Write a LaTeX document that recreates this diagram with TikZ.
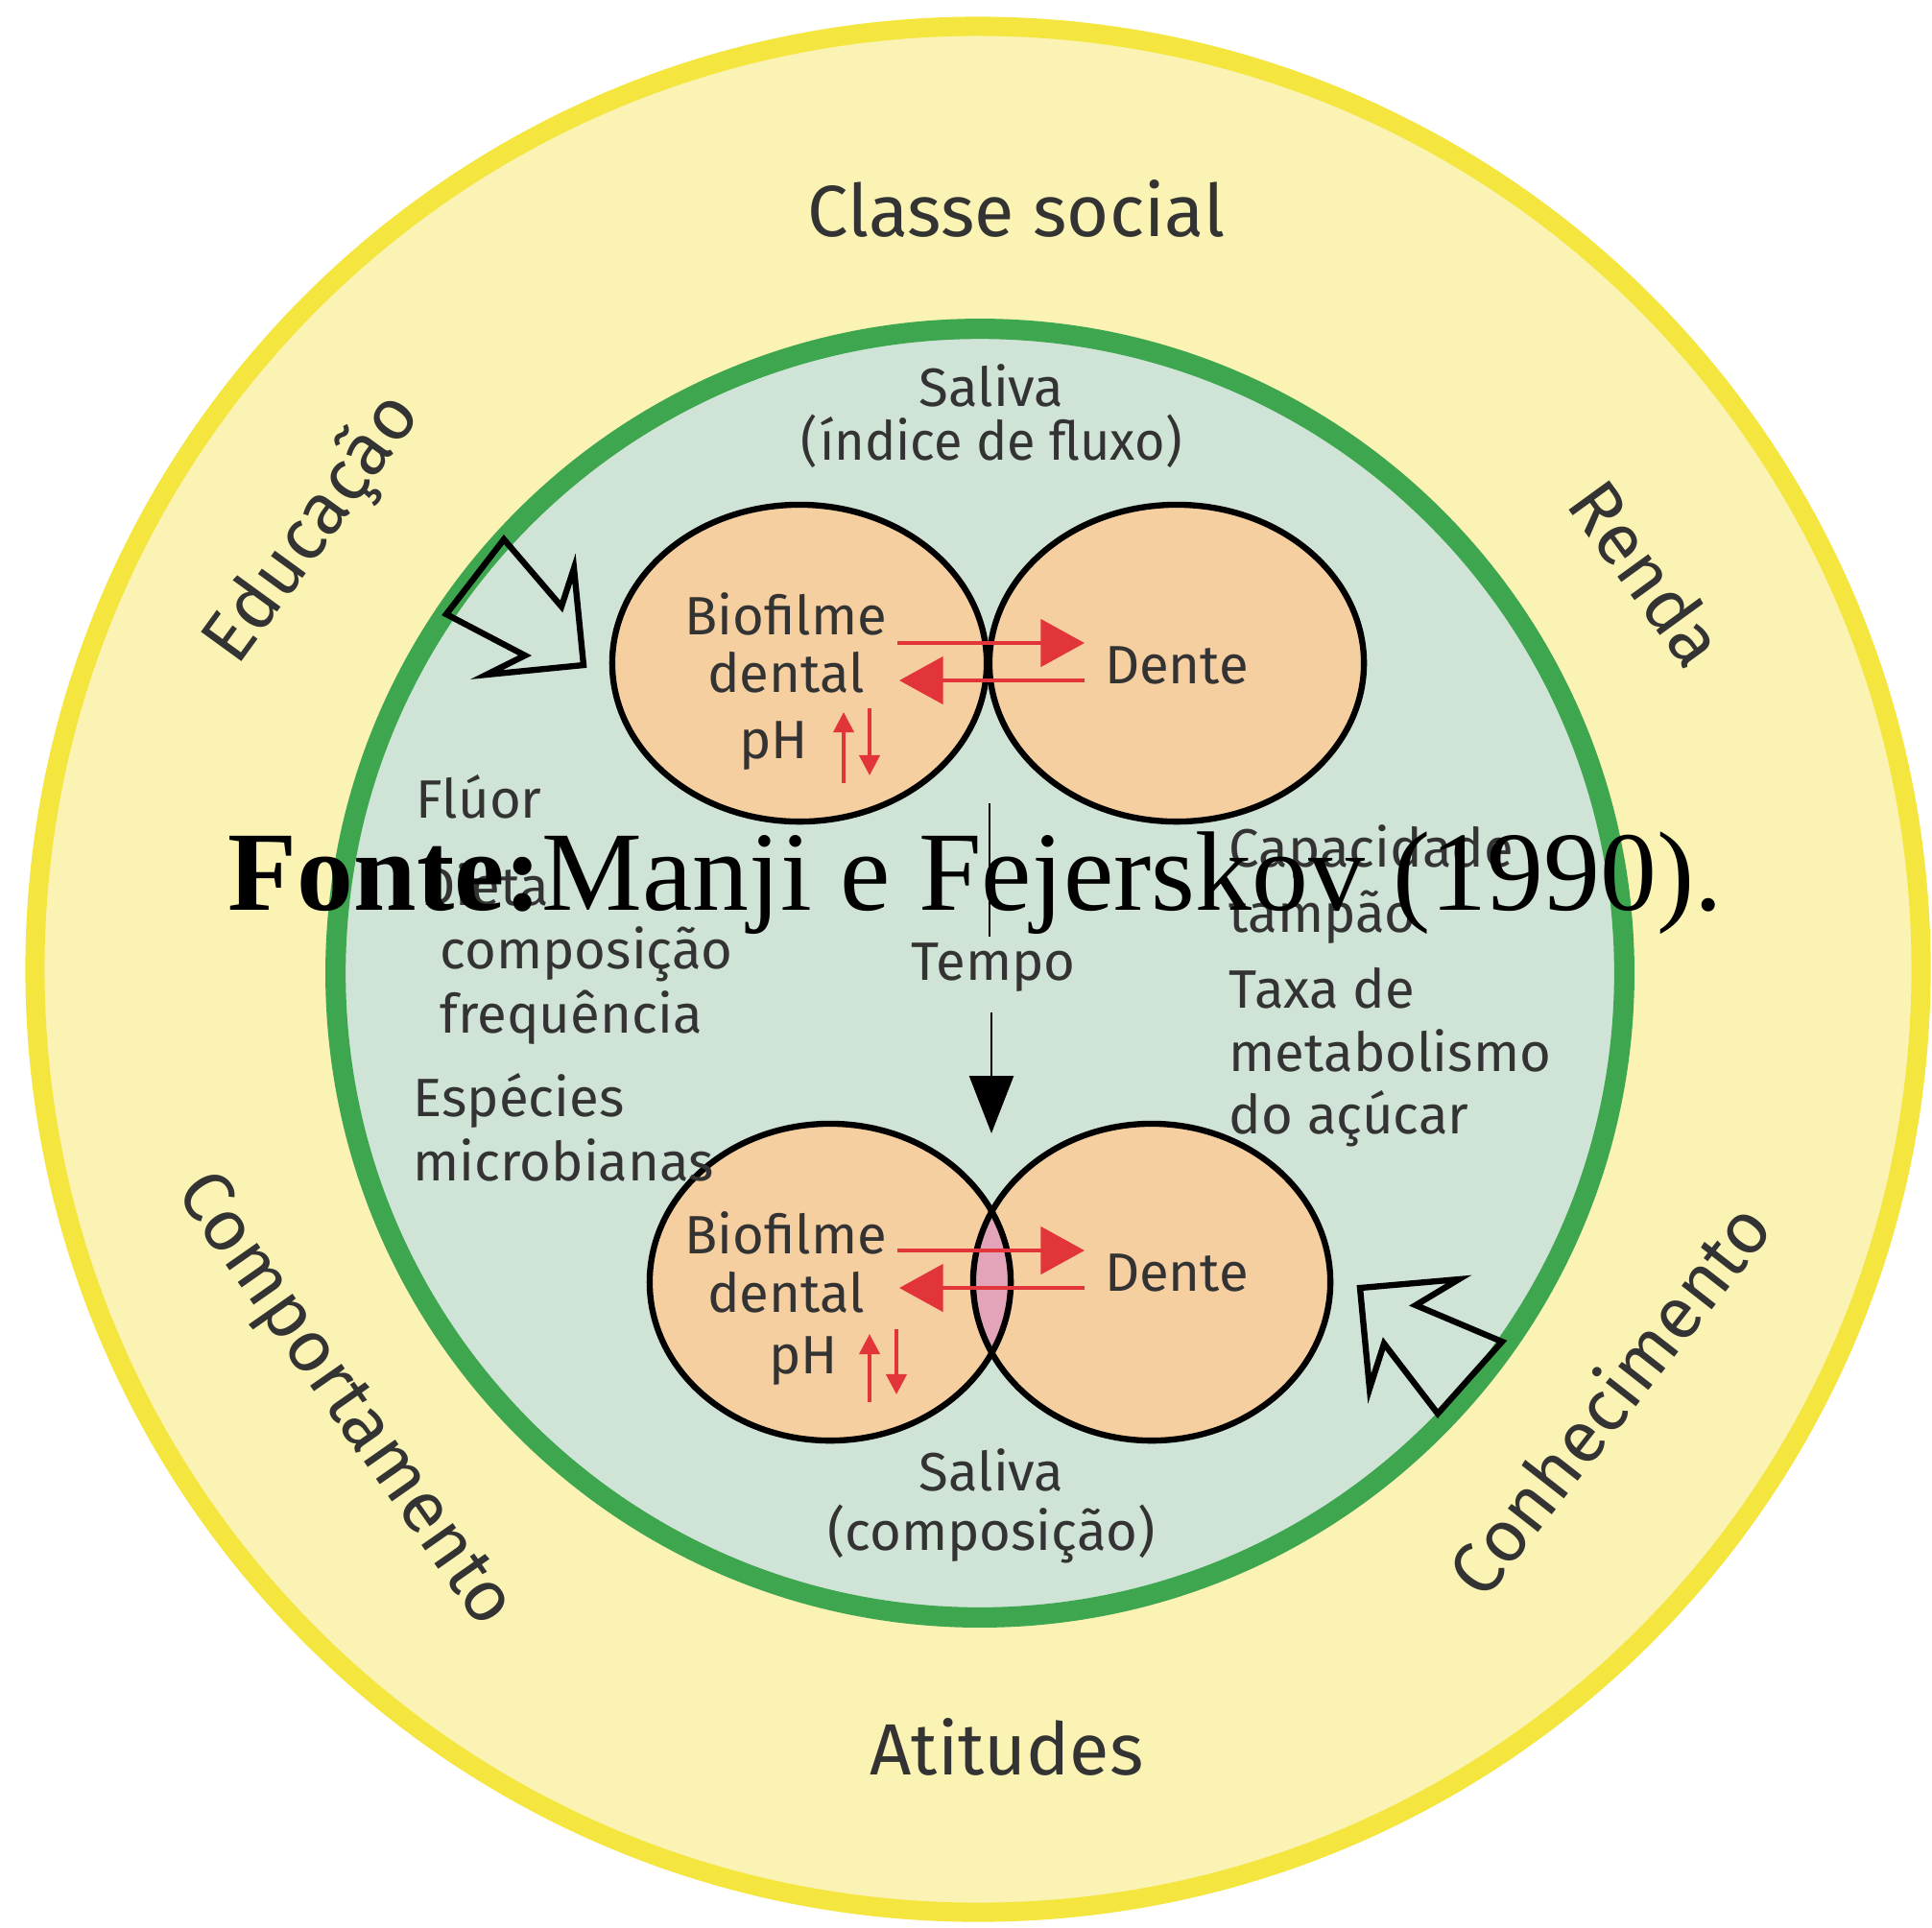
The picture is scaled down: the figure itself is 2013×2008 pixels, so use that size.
\documentclass[tikz,border=0pt]{standalone}
\usepackage{fontspec}
\setmainfont{Liberation Serif}
\newfontfamily\labfont{Fira Sans}
\usetikzlibrary{arrows.meta,shapes.geometric}
\definecolor{yfill}{HTML}{FAF3B4}
\definecolor{yline}{HTML}{F4E63E}
\definecolor{gfill}{HTML}{CFE4D6}
\definecolor{gline}{HTML}{3DA64E}
\definecolor{peach}{HTML}{F5CFA0}
\definecolor{lens}{HTML}{E3A3B8}
\definecolor{redarr}{HTML}{E2353A}
\definecolor{txt}{HTML}{333333}
\tikzset{
  outerlab/.style={font=\labfont\fontsize{21.5}{26}\selectfont, text=txt, inner sep=0pt},
  innerlab/.style={font=\labfont\fontsize{16}{19}\selectfont, text=txt, inner sep=0pt},
  blob/.style={ellipse, draw=black, line width=1.8pt, inner sep=0pt},
  redline/.style={draw=redarr, line width=1.2pt, -{Triangle[length=13pt,width=14pt]}},
  phline/.style={draw=redarr, line width=1.1pt, -{Triangle[length=6pt,width=6pt]}},
  hollow/.style={draw=black, line width=1.8pt, line join=miter},
}
\begin{document}
\begin{tikzpicture}[x=0.01cm,y=-0.01cm]
\useasboundingbox (0,0) rectangle (2013,2008);
\fill[white] (0,0) rectangle (2013,2008);
% outer and inner circles
\draw[line width=5.7pt, draw=yline, fill=yfill] (1019,1010) circle [radius=9.82cm];
\draw[line width=6pt, draw=gline, fill=gfill] (1021,1014) circle [radius=6.71cm];

% top pair
\fill[peach] (833,691) ellipse [x radius=1.95cm, y radius=1.65cm];
\fill[peach] (1226,691) ellipse [x radius=1.95cm, y radius=1.65cm];
\node[blob, minimum width=3.9cm, minimum height=3.3cm] (bioA) at (833,691) {};
\node[blob, minimum width=3.9cm, minimum height=3.3cm] (denA) at (1226,691) {};

% bottom pair
\fill[peach] (865,1336) ellipse [x radius=1.88cm, y radius=1.65cm];
\fill[peach] (1200,1336) ellipse [x radius=1.86cm, y radius=1.65cm];
\begin{scope}
  \clip (865,1336) ellipse [x radius=1.88cm, y radius=1.65cm];
  \fill[lens] (1200,1336) ellipse [x radius=1.86cm, y radius=1.65cm];
\end{scope}
\node[blob, minimum width=3.76cm, minimum height=3.3cm] (bioB) at (865,1336) {};
\node[blob, minimum width=3.72cm, minimum height=3.3cm] (denB) at (1200,1336) {};

% outer labels
\node[outerlab, anchor=base] (classe) at (1059,246) {Classe social};
\node[outerlab, anchor=base] (atit) at (1049,1849) {Atitudes};
\node[outerlab, rotate=54] (educ) at (327,552) {Educação};
\node[outerlab, rotate=-54] (renda) at (1717,597) {Renda};
\node[outerlab, rotate=-55] (comp) at (357,1460) {Comportamento};
\node[outerlab, rotate=52] (conh) at (1675,1457) {Conhecimento};

% inner centred labels
\node[innerlab, anchor=base] (sal1) at (1033,423) {Saliva};
\node[innerlab, anchor=base, xscale=0.96] (sal1b) at (1033,479) {(índice de fluxo)};
\node[innerlab, anchor=base] (sal2) at (1033,1553) {Saliva};
\node[innerlab, anchor=base] (sal2b) at (1033,1615) {(composição)};
\node[innerlab, anchor=base] (tempo) at (1035,1021) {Tempo};

\node[innerlab, anchor=base] (bfA) at (819,661) {Biofilme};
\node[innerlab, anchor=base] (dtA) at (819,721) {dental};
\node[innerlab, anchor=base] (phA) at (806,790) {pH};
\node[innerlab, anchor=base] (dnA) at (1226,712) {Dente};

\node[innerlab, anchor=base] (bfB) at (819,1306) {Biofilme};
\node[innerlab, anchor=base] (dtB) at (819,1367) {dental};
\node[innerlab, anchor=base] (phB) at (837,1431) {pH};
\node[innerlab, anchor=base] (dnB) at (1226,1345) {Dente};

% left list
\node[innerlab, anchor=base west] (fluor) at (433,852) {Flúor};
\node[innerlab, anchor=base west] (dieta) at (438,943) {Dieta};
\node[innerlab, anchor=base west] (compo) at (458,1009) {composição};
\node[innerlab, anchor=base west] (freq) at (458,1076) {frequência};
\node[innerlab, anchor=base west] (espe) at (430,1163) {Espécies};
\node[innerlab, anchor=base west] (micro) at (430,1230) {microbianas};

% right list
\node[innerlab, anchor=base west] (capa) at (1280,903) {Capacidade};
\node[innerlab, anchor=base west] (tamp) at (1280,971) {tampão};
\node[innerlab, anchor=base west] (taxa) at (1280,1050) {Taxa de};
\node[innerlab, anchor=base west] (meta) at (1280,1116) {metabolismo};
\node[innerlab, anchor=base west] (acuc) at (1280,1181) {do açúcar};

% red exchange arrows (top)
\coordinate (rA1) at (935,670);  \coordinate (rA2) at (1130,670);
\coordinate (lA1) at (1130,709); \coordinate (lA2) at (937,709);
\draw[redline] (rA1) -- (rA2);
\draw[redline] (lA1) -- (lA2);
\coordinate (uA1) at (879,816); \coordinate (uA2) at (879,742);
\coordinate (dA1) at (906,738); \coordinate (dA2) at (906,808);
\draw[phline] (uA1) -- (uA2);
\draw[phline] (dA1) -- (dA2);

% red exchange arrows (bottom)
\coordinate (rB1) at (935,1303);  \coordinate (rB2) at (1130,1303);
\coordinate (lB1) at (1130,1342); \coordinate (lB2) at (937,1342);
\draw[redline] (rB1) -- (rB2);
\draw[redline] (lB1) -- (lB2);
\coordinate (uB1) at (906,1461); \coordinate (uB2) at (906,1390);
\coordinate (dB1) at (934,1385); \coordinate (dB2) at (934,1453);
\draw[phline] (uB1) -- (uB2);
\draw[phline] (dB1) -- (dB2);

% time line and arrow
\coordinate (t0) at (1031,837);
\coordinate (t1) at (1031,976);
\draw[line width=0.6pt] (t0) -- (t1);
\coordinate (t2) at (1033,1055);
\coordinate (t3) at (1033,1181);
\draw[line width=0.8pt, -{Triangle[length=17pt,width=13pt]}] (t2) -- (t3);

% hollow arrows
\draw[hollow] (525,562) -- (585,632) -- (598,592) -- (608,693) -- (507,703) -- (547,683) -- (465,640) -- cycle;
\draw[hollow] (1417,1342) -- (1520,1333) -- (1475,1360) -- (1565,1398) -- (1498,1473) -- (1442,1400) -- (1427,1447) -- cycle;

% overlaid source line
\node[anchor=base west, inner sep=0pt, font=\fontsize{33.5}{40}\selectfont, text=black] (fonte) at (237,948) {\textbf{Fonte:}Manji e Fejerskov (1990).};
\end{tikzpicture}
\end{document}
